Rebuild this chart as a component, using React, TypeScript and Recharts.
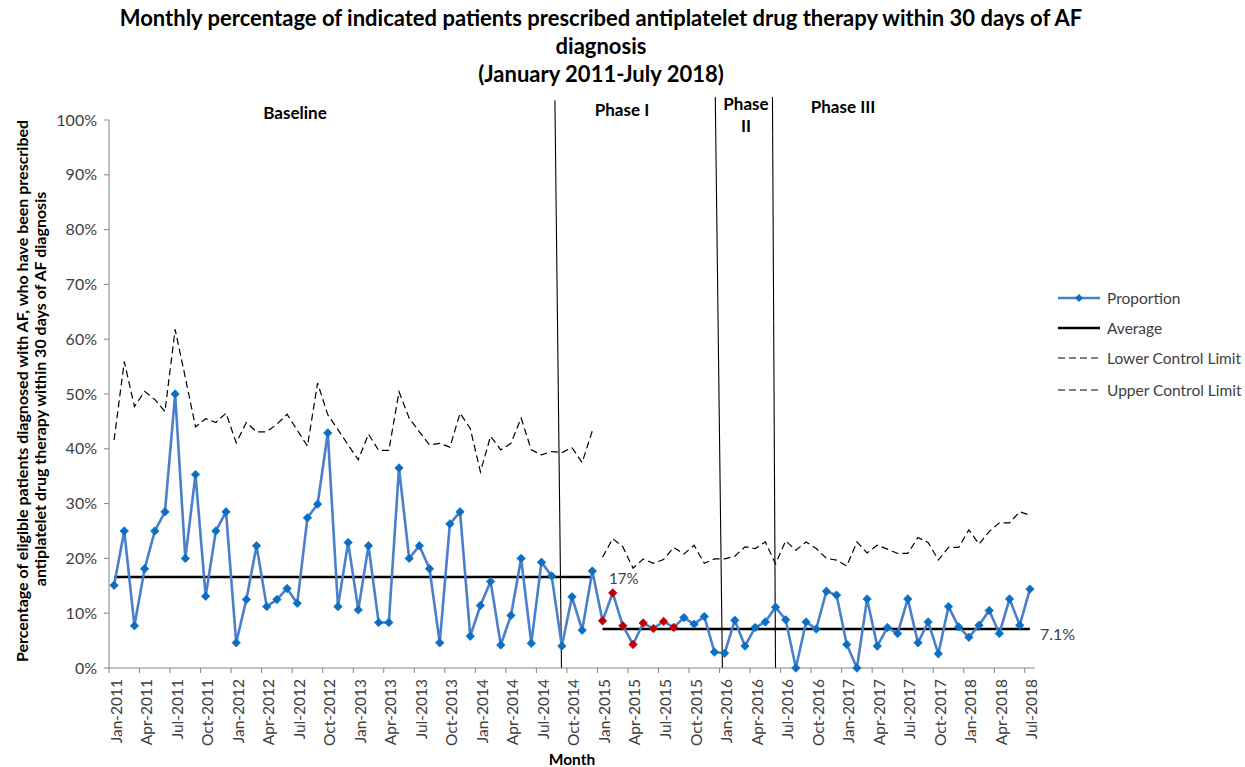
import React from "react";
import { LineChart, Line, XAxis, YAxis, ReferenceLine } from "recharts";

const MONTH_NAMES = ["Jan", "Feb", "Mar", "Apr", "May", "Jun", "Jul", "Aug", "Sep", "Oct", "Nov", "Dec"];
const months: string[] = [];
for (let y = 2011; y <= 2018; y++) {
  for (let m = 0; m < 12; m++) {
    if (y === 2018 && m > 6) break;
    months.push(`${MONTH_NAMES[m]}-${y}`);
  }
}

const proportion = [
  15.1, 25, 7.7, 18.1, 25, 28.5, 50, 20, 35.3, 13.1, 25, 28.5,
  4.6, 12.5, 22.3, 11.2, 12.5, 14.5, 11.8, 27.4, 29.9, 42.9, 11.2, 22.9,
  10.6, 22.3, 8.3, 8.3, 36.5, 20, 22.3, 18.1, 4.6, 26.3, 28.5, 5.8,
  11.4, 15.8, 4.2, 9.6, 20, 4.5, 19.3, 16.8, 4.0, 13, 6.9, 17.7,
  8.6, 13.7, 7.7, 4.3, 8.2, 7.2, 8.5, 7.4, 9.2, 8.0, 9.4, 2.9,
  2.7, 8.7, 4.0, 7.4, 8.4, 11.1, 8.8, 0, 8.4, 7.1, 14, 13.3,
  4.3, 0, 12.6, 4.0, 7.4, 6.3, 12.6, 4.6, 8.4, 2.6, 11.2, 7.5,
  5.6, 7.8, 10.5, 6.3, 12.6, 7.8, 14.4,
];

const uclBaseline = [
  41.6, 55.9, 47.7, 50.5, 49, 46.8, 61.8, 53, 44, 45.5, 44.8, 46.5,
  41.1, 44.8, 43.1, 43.1, 44.5, 46.3, 43.4, 40.5, 52, 46.2, 43.5, 40.7,
  38, 42.7, 39.7, 39.7, 50.4, 45.6, 43.1, 40.7, 41, 40.3, 46.5, 43.7,
  35.8, 42.3, 39.8, 41, 45.6, 39.8, 38.9, 39.5, 39.3, 40.2, 37.5, 43.3,
];

const uclPhase = [
  20.2, 23.6, 22.1, 18.2, 19.9, 19.1, 19.8, 22, 20.8, 22.4, 19.1, 19.9,
  19.9, 20.4, 22.1, 21.8, 23, 19, 23.2, 21.5, 23, 21.8, 20, 19.7,
  18.6, 23, 21, 22.4, 21.7, 20.9, 20.9, 23.8, 22.9, 19.7, 22, 22,
  25.2, 22.6, 24.9, 26.5, 26.5, 28.5, 27.9,
];

const baselineLength = 48;
const averageBaseline = 16.6;
const averagePhase = 7.1;
const signalPoints = [48, 49, 50, 51, 52, 53, 54, 55];
const yTicks = [0, 10, 20, 30, 40, 50, 60, 70, 80, 90, 100];
// phase boundary lines: [top x, top y, bottom x, bottom y]
const phaseLines = [
  [43.32, 103.6, 43.97, 0],
  [59.08, 104.2, 59.78, 0],
  [64.7, 104.2, 65.0, 0],
];

const data = months.map((m, i) => ({
  idx: i,
  month: m,
  proportion: proportion[i],
  avgBase: i < baselineLength ? averageBaseline : null,
  avgPhase: i >= baselineLength ? averagePhase : null,
  uclBase: i < baselineLength ? uclBaseline[i] : null,
  uclPhase: i >= baselineLength ? uclPhase[i - baselineLength] : null,
  lcl: null,
}));

const xTicks = months.map((_, i) => i).filter((i) => i % 3 === 0).map((i) => i - 0.5);

const FONT = "Lato, 'Liberation Sans', sans-serif";
const TEXT = "#404040";

const XTick = (props: any) => {
  const { x, y, payload } = props;
  const label = months[Math.round(payload.value + 0.5)];
  return (
    <g transform={`translate(${x},${y})`}>
      <text transform="rotate(-90)" x={-4} y={12.5} textAnchor="end" fontSize={15.5} fill={TEXT} fontFamily={FONT}>
        {label}
      </text>
    </g>
  );
};

const Diamond = (props: any) => {
  const { cx, cy, index } = props;
  if (cx == null || cy == null) return null;
  const c = signalPoints.includes(index) ? "#c00000" : "#0b6fc4";
  const r = 4.2;
  return <path key={`d${index}`} d={`M${cx},${cy - r}L${cx + r},${cy}L${cx},${cy + r}L${cx - r},${cy}Z`} fill={c} stroke={c} strokeWidth={0.8} />;
};

export default function App() {
  return (
    <div style={{ position: "absolute", left: 0, top: 0, width: 1245, height: 767, background: "#fff", fontFamily: FONT }}>
      <LineChart width={1245} height={767} data={data} margin={{ top: 120, right: 210, bottom: 29, left: 49 }}>
        <XAxis
          type="number"
          dataKey="idx"
          domain={[-0.5, 90.5]}
          ticks={xTicks}
          interval={0}
          tick={<XTick />}
          tickSize={5}
          height={70}
          stroke="#868686"
          allowDataOverflow
        />
        <YAxis
          domain={[0, 100]}
          ticks={yTicks}
          tickFormatter={(v: number) => `${v}%`}
          width={60}
          tickSize={5}
          tickMargin={7}
          stroke="#868686"
          tick={{ fill: TEXT, fontSize: 16, fontFamily: FONT }}
        />
        {phaseLines.map((p, i) => (
          <ReferenceLine
            key={`pl${i}`}
            segment={[{ x: p[0], y: p[1] }, { x: p[2], y: p[3] }]}
            stroke="#000"
            strokeWidth={1.1}
            ifOverflow="visible"
          />
        ))}
        <Line dataKey="uclBase" stroke="#000" strokeWidth={1.2} strokeDasharray="7 4" dot={false} isAnimationActive={false} connectNulls={false} />
        <Line dataKey="uclPhase" stroke="#000" strokeWidth={1.2} strokeDasharray="7 4" dot={false} isAnimationActive={false} connectNulls={false} />
        <Line dataKey="lcl" stroke="#000" strokeWidth={1.2} strokeDasharray="7 4" dot={false} isAnimationActive={false} />
        <Line dataKey="avgBase" stroke="#000" strokeWidth={2.5} dot={false} isAnimationActive={false} connectNulls={false} />
        <Line dataKey="avgPhase" stroke="#000" strokeWidth={2.5} dot={false} isAnimationActive={false} connectNulls={false} />
        <Line dataKey="proportion" stroke="#4a7fcc" strokeWidth={2.6} dot={<Diamond />} isAnimationActive={false} />
      </LineChart>
      <svg width={1245} height={767} style={{ position: "absolute", left: 0, top: 0, pointerEvents: "none" }} fontFamily={FONT}>
        <g fontWeight="bold" fontSize={22} fill="#000" textAnchor="middle">
          <text x={601} y={26}>Monthly percentage of indicated patients prescribed antiplatelet drug therapy within 30 days of AF</text>
          <text x={601} y={54}>diagnosis</text>
          <text x={601} y={82}>(January 2011-July 2018)</text>
        </g>
        <g fontWeight="bold" fontSize={16} fill="#000" textAnchor="middle">
          <text transform="translate(27.5,391) rotate(-90)">Percentage of eligible patients diagnosed with AF, who have been prescribed</text>
          <text transform="translate(45.5,389) rotate(-90)">antiplatelet drug therapy within 30 days of AF diagnosis</text>
        </g>
        <text x={572} y={765} fontWeight="bold" fontSize={15.5} fill="#000" textAnchor="middle">Month</text>
        <g fontWeight="bold" fontSize={17} fill="#000" textAnchor="middle">
          <text x={295} y={119}>Baseline</text>
          <text x={622} y={116}>Phase I</text>
          <text x={746} y={110}>Phase</text>
          <text x={746} y={132}>II</text>
          <text x={843} y={113}>Phase III</text>
        </g>
        <g fill={TEXT}>
          <text x={609} y={584} fontSize={15}>17%</text>
          <text x={1040} y={640} fontSize={16}>7.1%</text>
        </g>
        <g fontSize={15.5} fill={TEXT}>
          <line x1={1058} x2={1100} y1={298} y2={298} stroke="#4a7fcc" strokeWidth={2.6} />
          <path d="M1079,294L1083,298L1079,302L1075,298Z" fill="#0b6fc4" />
          <text x={1107} y={303.5}>Proportion</text>
          <line x1={1058} x2={1100} y1={328} y2={328} stroke="#000" strokeWidth={2.5} />
          <text x={1107} y={333.5}>Average</text>
          <line x1={1058} x2={1100} y1={358} y2={358} stroke="#000" strokeWidth={1.2} strokeDasharray="7 4" />
          <text x={1107} y={363.5}>Lower Control Limit</text>
          <line x1={1058} x2={1100} y1={390} y2={390} stroke="#000" strokeWidth={1.2} strokeDasharray="7 4" />
          <text x={1107} y={395.5}>Upper Control Limit</text>
        </g>
      </svg>
    </div>
  );
}
